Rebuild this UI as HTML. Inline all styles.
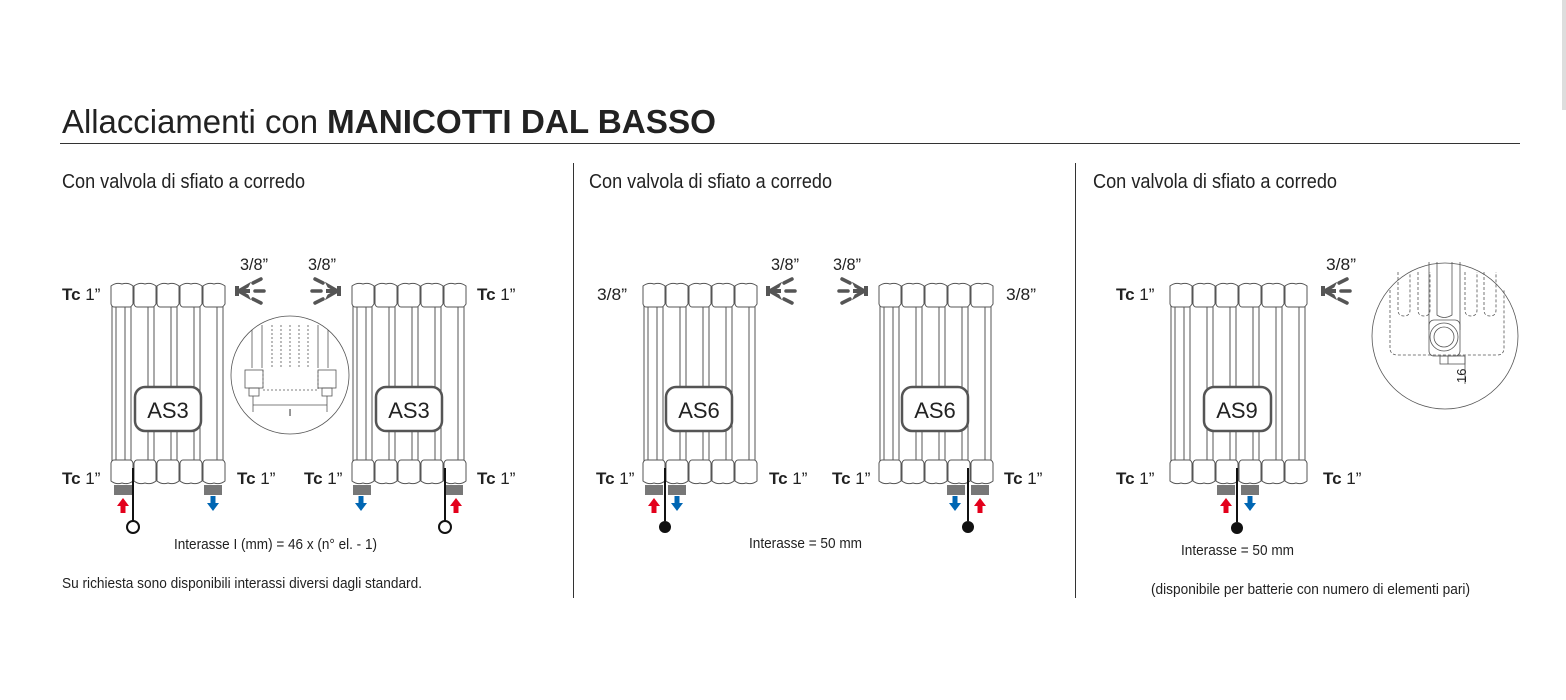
<!DOCTYPE html>
<html><head><meta charset="utf-8"><style>
html,body{margin:0;padding:0;background:#fff;}
svg{display:block}
.t{font-family:"Liberation Sans",sans-serif;fill:#222}
</style></head><body>
<svg width="1566" height="700" viewBox="0 0 1566 700" xmlns="http://www.w3.org/2000/svg">
<defs>
<g id="el">
  <rect x="14" y="22" width="6" height="160" fill="#fff" stroke="#555" stroke-width="1"/>
  <path d="M0,4 Q5,0 11,2 Q17,0 22,4 L22,22 Q20,25 19,25 L3,25 Q1,25 0,22 Z" fill="#fff" stroke="#555" stroke-width="1"/>
  <path d="M0,181 Q1,178 3,178 L19,178 Q21,178 22,181 L22,199 Q17,203 11,201 Q5,203 0,199 Z" fill="#fff" stroke="#555" stroke-width="1"/>
</g>
<g id="left"><rect x="1" y="22" width="4" height="160" fill="#fff" stroke="#555" stroke-width="1"/></g>
<g id="rad5">
  <use href="#left"/>
  <use href="#el" x="0"/><use href="#el" x="23"/><use href="#el" x="46"/><use href="#el" x="69"/><use href="#el" x="92"/>
</g>
<g id="ventL" fill="#555" stroke="#555">
  <path d="M0,0 L14,-8 L12,-4 L5,0 L12,4 L14,8 Z" stroke-width="1"/>
  <rect x="-1" y="-5" width="4" height="10" stroke="none"/>
  <line x1="2" y1="0" x2="14" y2="0" stroke-width="4"/>
  <line x1="19" y1="0" x2="28" y2="0" stroke-width="3.5" stroke-linecap="round"/>
  <line x1="17" y1="-8" x2="25" y2="-12" stroke-width="3.5" stroke-linecap="round"/>
  <line x1="17" y1="8" x2="25" y2="12" stroke-width="3.5" stroke-linecap="round"/>
</g>
<g id="cap"><rect x="0" y="0" width="18" height="10" fill="#777"/></g>
<g id="red"><path d="M0,-8 L-6,0 L-2.5,0 L-2.5,7 L2.5,7 L2.5,0 L6,0 Z" fill="#e3001b"/></g>
<g id="blue"><path d="M0,8 L-6,0 L-2.5,0 L-2.5,-7 L2.5,-7 L2.5,0 L6,0 Z" fill="#0066b3"/></g>
</defs>

<rect x="1562" y="0" width="4" height="110" fill="#ddd"/>

<text class="t" x="62" y="133" font-size="33" font-weight="300" textLength="256" lengthAdjust="spacingAndGlyphs">Allacciamenti con</text>
<text class="t" x="327" y="133" font-size="33" font-weight="bold" fill="#111" textLength="389" lengthAdjust="spacingAndGlyphs">MANICOTTI DAL BASSO</text>
<line x1="60" y1="143.5" x2="1520" y2="143.5" stroke="#333" stroke-width="1"/>
<line x1="573.5" y1="163" x2="573.5" y2="598" stroke="#333" stroke-width="1"/>
<line x1="1075.5" y1="163" x2="1075.5" y2="598" stroke="#333" stroke-width="1"/>

<g class="t" font-size="20">
<text x="62" y="188" textLength="243" lengthAdjust="spacingAndGlyphs">Con valvola di sfiato a corredo</text>
<text x="589" y="188" textLength="243" lengthAdjust="spacingAndGlyphs">Con valvola di sfiato a corredo</text>
<text x="1093" y="188" textLength="244" lengthAdjust="spacingAndGlyphs">Con valvola di sfiato a corredo</text>
</g>

<g class="t" font-size="15">
<text x="174" y="549" textLength="203" lengthAdjust="spacingAndGlyphs">Interasse I (mm) = 46 x (n° el. - 1)</text>
<text x="62" y="588" textLength="360" lengthAdjust="spacingAndGlyphs">Su richiesta sono disponibili interassi diversi dagli standard.</text>
<text x="749" y="548" textLength="113" lengthAdjust="spacingAndGlyphs">Interasse = 50 mm</text>
<text x="1181" y="555" textLength="113" lengthAdjust="spacingAndGlyphs">Interasse = 50 mm</text>
<text x="1151" y="594" textLength="319" lengthAdjust="spacingAndGlyphs">(disponibile per batterie con numero di elementi pari)</text>
</g>

<!-- radiators -->
<use href="#rad5" x="111" y="282"/>
<use href="#rad5" x="352" y="282"/>
<use href="#rad5" x="643" y="282"/>
<use href="#rad5" x="879" y="282"/>
<use href="#rad5" x="1170" y="282"/>
<use href="#el" x="1285" y="282"/>

<g fill="#fff" stroke="#555" stroke-width="2.5">
<rect x="135" y="387" width="66" height="44" rx="10"/>
<rect x="376" y="387" width="66" height="44" rx="10"/>
<rect x="666" y="387" width="66" height="44" rx="10"/>
<rect x="902" y="387" width="66" height="44" rx="10"/>
<rect x="1204" y="387" width="67" height="44" rx="10"/>
</g>
<g class="t" font-size="22" fill="#444" text-anchor="middle">
<text x="168" y="418">AS3</text><text x="409" y="418">AS3</text>
<text x="699" y="418">AS6</text><text x="935" y="418">AS6</text>
<text x="1237" y="418">AS9</text>
</g>

<!-- labels Tc and 3/8 -->
<g class="t" font-size="17" fill="#111">
<g font-weight="bold">
<text x="62" y="300"><tspan>Tc</tspan><tspan font-weight="normal"> 1”</tspan></text>
<text x="477" y="300"><tspan>Tc</tspan><tspan font-weight="normal"> 1”</tspan></text>
<text x="62" y="484"><tspan>Tc</tspan><tspan font-weight="normal"> 1”</tspan></text>
<text x="237" y="484"><tspan>Tc</tspan><tspan font-weight="normal"> 1”</tspan></text>
<text x="304" y="484"><tspan>Tc</tspan><tspan font-weight="normal"> 1”</tspan></text>
<text x="477" y="484"><tspan>Tc</tspan><tspan font-weight="normal"> 1”</tspan></text>
<text x="596" y="484"><tspan>Tc</tspan><tspan font-weight="normal"> 1”</tspan></text>
<text x="769" y="484"><tspan>Tc</tspan><tspan font-weight="normal"> 1”</tspan></text>
<text x="832" y="484"><tspan>Tc</tspan><tspan font-weight="normal"> 1”</tspan></text>
<text x="1004" y="484"><tspan>Tc</tspan><tspan font-weight="normal"> 1”</tspan></text>
<text x="1116" y="300"><tspan>Tc</tspan><tspan font-weight="normal"> 1”</tspan></text>
<text x="1116" y="484"><tspan>Tc</tspan><tspan font-weight="normal"> 1”</tspan></text>
<text x="1323" y="484"><tspan>Tc</tspan><tspan font-weight="normal"> 1”</tspan></text>
</g>
<text x="240" y="270" textLength="28" lengthAdjust="spacingAndGlyphs">3/8”</text>
<text x="308" y="270" textLength="28" lengthAdjust="spacingAndGlyphs">3/8”</text>
<text x="771" y="270" textLength="28" lengthAdjust="spacingAndGlyphs">3/8”</text>
<text x="833" y="270" textLength="28" lengthAdjust="spacingAndGlyphs">3/8”</text>
<text x="597" y="300" textLength="30" lengthAdjust="spacingAndGlyphs">3/8”</text>
<text x="1006" y="300" textLength="30" lengthAdjust="spacingAndGlyphs">3/8”</text>
<text x="1326" y="270" textLength="30" lengthAdjust="spacingAndGlyphs">3/8”</text>
</g>

<!-- vents -->
<use href="#ventL" x="236" y="291"/>
<use href="#ventL" transform="translate(340,291) scale(-1,1)"/>
<use href="#ventL" x="767" y="291"/>
<use href="#ventL" transform="translate(867,291) scale(-1,1)"/>
<use href="#ventL" x="1322" y="291"/>

<!-- Panel 1 connections -->
<use href="#cap" x="114" y="485"/><use href="#cap" x="204" y="485"/>
<use href="#red" x="123" y="506"/><use href="#blue" x="213" y="503"/>
<line x1="133" y1="468" x2="133" y2="521" stroke="#111" stroke-width="2"/>
<circle cx="133" cy="527" r="6" fill="#fff" stroke="#111" stroke-width="2"/>
<use href="#cap" x="353" y="485"/><use href="#cap" x="445" y="485"/>
<use href="#blue" x="361" y="503"/><use href="#red" x="456" y="506"/>
<line x1="445" y1="468" x2="445" y2="521" stroke="#111" stroke-width="2"/>
<circle cx="445" cy="527" r="6" fill="#fff" stroke="#111" stroke-width="2"/>

<!-- inset 1 -->
<g fill="none" stroke="#555" stroke-width="0.8">
<circle cx="290" cy="375" r="59"/>
<line x1="252" y1="330" x2="252" y2="368"/><line x1="262" y1="325" x2="262" y2="368"/>
<line x1="318" y1="325" x2="318" y2="368"/><line x1="328" y1="330" x2="328" y2="368"/>
<g stroke-dasharray="2,2"><line x1="272" y1="325" x2="272" y2="368"/><line x1="281" y1="325" x2="281" y2="368"/><line x1="290" y1="325" x2="290" y2="368"/><line x1="299" y1="325" x2="299" y2="368"/><line x1="308" y1="325" x2="308" y2="368"/>
<path d="M263,370 L263,390 L318,390 L318,370"/></g>
<rect x="245" y="370" width="18" height="18"/><rect x="318" y="370" width="18" height="18"/>
<rect x="249" y="388" width="10" height="8"/><rect x="322" y="388" width="10" height="8"/>
<line x1="253" y1="396" x2="253" y2="412"/><line x1="327" y1="396" x2="327" y2="412"/>
<line x1="253" y1="405" x2="327" y2="405"/>
</g>
<text class="t" x="290" y="416" font-size="10" text-anchor="middle" font-family="Liberation Serif">I</text>

<!-- Panel 2 connections -->
<use href="#cap" x="645" y="485"/><use href="#cap" x="668" y="485"/>
<use href="#red" x="654" y="506"/><use href="#blue" x="677" y="503"/>
<line x1="665" y1="468" x2="665" y2="521" stroke="#111" stroke-width="2"/>
<circle cx="665" cy="527" r="6" fill="#111"/>
<use href="#cap" x="947" y="485"/><use href="#cap" x="971" y="485"/>
<use href="#blue" x="955" y="503"/><use href="#red" x="980" y="506"/>
<line x1="968" y1="468" x2="968" y2="521" stroke="#111" stroke-width="2"/>
<circle cx="968" cy="527" r="6" fill="#111"/>

<!-- Panel 3 connections -->
<use href="#cap" x="1217" y="485"/><use href="#cap" x="1241" y="485"/>
<use href="#red" x="1226" y="506"/><use href="#blue" x="1250" y="503"/>
<line x1="1237" y1="468" x2="1237" y2="522" stroke="#111" stroke-width="2"/>
<circle cx="1237" cy="528" r="6" fill="#111"/>

<!-- inset 3 -->
<g fill="none" stroke="#555" stroke-width="0.8">
<circle cx="1445" cy="336" r="73"/>
<g stroke-dasharray="3,2">
<path d="M1398,272 L1398,310 Q1398,316 1404,316 Q1410,316 1410,310 L1410,272"/>
<path d="M1418,272 L1418,310 Q1418,316 1424,316 Q1430,316 1430,310 L1430,272"/>
<path d="M1465,272 L1465,310 Q1465,316 1471,316 Q1477,316 1477,310 L1477,272"/>
<path d="M1484,272 L1484,310 Q1484,316 1490,316 Q1496,316 1496,310 L1496,272"/>
<path d="M1390,290 L1390,348 Q1390,355 1398,355 L1497,355 Q1504,355 1504,348 L1504,290"/>
</g>
<line x1="1429" y1="262" x2="1429" y2="330"/><line x1="1460" y1="262" x2="1460" y2="330"/>
<path d="M1437,262 L1437,315 Q1444,320 1452,315 L1452,262"/>
<rect x="1429" y="320" width="31" height="36" rx="5"/>
<circle cx="1444" cy="337" r="14"/><circle cx="1444" cy="337" r="10"/>
<rect x="1440" y="356" width="25" height="8"/><line x1="1448" y1="356" x2="1448" y2="364"/>
<line x1="1465" y1="356" x2="1465" y2="384"/>
</g>
<text class="t" transform="translate(1466,383) rotate(-90)" font-size="13">16</text>
</svg>
</body></html>
